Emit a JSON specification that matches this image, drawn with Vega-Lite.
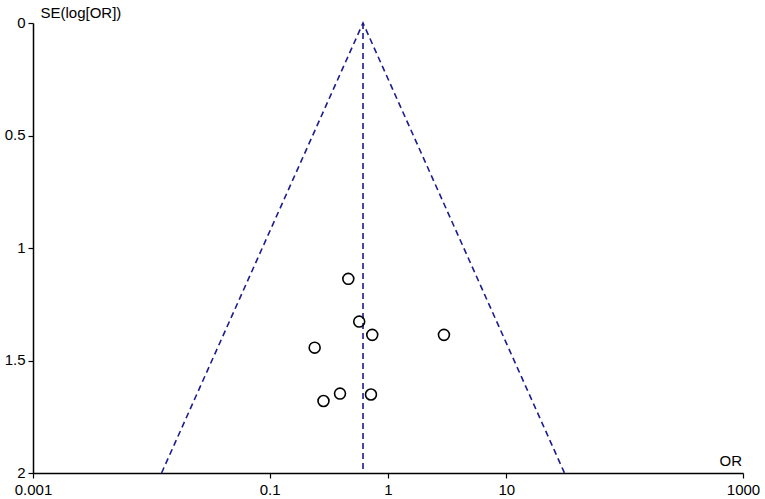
{
  "$schema": "https://vega.github.io/schema/vega-lite/v6.json",
  "width": 710,
  "height": 450,
  "autosize": {"type": "none"},
  "padding": {"left": 33, "top": 23, "right": 22, "bottom": 26},
  "background": "white",
  "config": {
    "view": {"stroke": null},
    "font": "Liberation Sans",
    "axis": {
      "domainColor": "black",
      "domainWidth": 1.5,
      "tickColor": "black",
      "tickWidth": 1.2,
      "tickSize": 5,
      "labelColor": "black",
      "labelFont": "Liberation Sans",
      "labelFontSize": 15,
      "titleFont": "Liberation Sans",
      "titleFontSize": 15,
      "titleFontWeight": "normal",
      "titleColor": "black",
      "grid": false
    }
  },
  "datasets": {
    "studies": [
      {"or": 0.462, "se": 1.137},
      {"or": 0.571, "se": 1.327},
      {"or": 0.736, "se": 1.386},
      {"or": 2.97, "se": 1.386},
      {"or": 0.240, "se": 1.443},
      {"or": 0.393, "se": 1.647},
      {"or": 0.285, "se": 1.680},
      {"or": 0.718, "se": 1.651}
    ],
    "lines": [
      {"series": "funnel", "ord": 1, "or": 0.0122, "se": 2},
      {"series": "funnel", "ord": 2, "or": 0.615, "se": 0},
      {"series": "funnel", "ord": 3, "or": 31.0, "se": 2},
      {"series": "pooled", "ord": 1, "or": 0.615, "se": 0},
      {"series": "pooled", "ord": 2, "or": 0.615, "se": 2}
    ]
  },
  "encoding": {
    "x": {
      "field": "or",
      "type": "quantitative",
      "scale": {"type": "log", "domain": [0.001, 1000], "nice": false},
      "axis": {
        "values": [0.001, 0.1, 1, 10, 1000],
        "labelExpr": "datum.value == 0.001 ? '0.001' : datum.value == 0.1 ? '0.1' : datum.value == 1 ? '1' : datum.value == 10 ? '10' : '1000'",
        "labelPadding": 4,
        "labelFlush": false,
        "labelOverlap": false,
        "title": "OR",
        "titleX": 686,
        "titleY": -8,
        "titleAlign": "left",
        "titleBaseline": "alphabetic",
        "titleAnchor": null
      }
    },
    "y": {
      "field": "se",
      "type": "quantitative",
      "scale": {"domain": [0, 2], "reverse": true, "nice": false, "zero": false},
      "axis": {
        "values": [0, 0.5, 1, 1.5, 2],
        "labelExpr": "'' + datum.value",
        "labelPadding": 3,
        "labelFlush": false,
        "labelOverlap": false,
        "labelOffset": -1,
        "title": "SE(log[OR])",
        "titleAngle": 0,
        "titleX": 7,
        "titleY": -6,
        "titleAlign": "left",
        "titleBaseline": "alphabetic",
        "titleAnchor": null
      }
    }
  },
  "layer": [
    {
      "data": {"name": "lines"},
      "mark": {"type": "line", "color": "#1c1c8e", "strokeWidth": 1.6, "strokeDash": [6, 4], "clip": false},
      "encoding": {
        "detail": {"field": "series"},
        "order": {"field": "ord", "type": "quantitative"}
      }
    },
    {
      "data": {"name": "studies"},
      "mark": {"type": "point", "shape": "circle", "filled": false, "color": "black", "strokeWidth": 1.6, "size": 120, "opacity": 1}
    }
  ]
}
